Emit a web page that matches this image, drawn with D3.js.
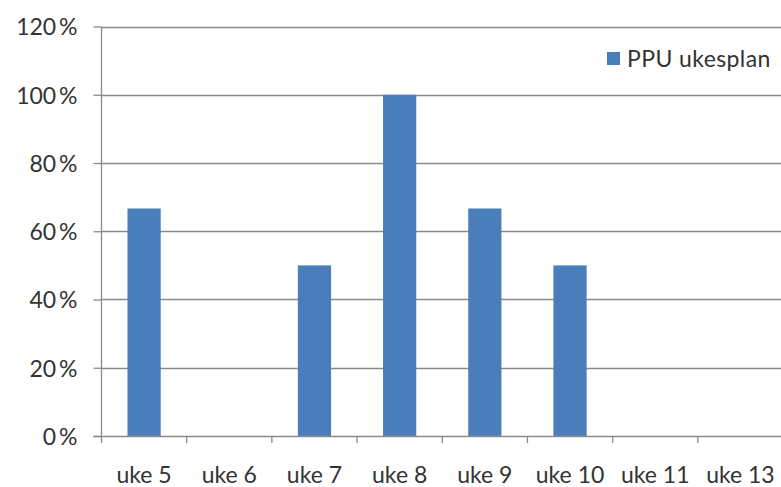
<!DOCTYPE html>
<html>
<head>
<meta charset="utf-8">
<script src="https://cdn.jsdelivr.net/npm/d3@7"></script>
<style>
  html, body { margin: 0; padding: 0; background: #fff; }
  svg { display: block; }
  text { font-family: Lato, "Open Sans", sans-serif; fill: #333; }
</style>
</head>
<body>
<svg id="chart" width="781" height="487"></svg>
<script>
// Weekly PPU share per week
const categories = ["uke 5", "uke 6", "uke 7", "uke 8", "uke 9", "uke 10", "uke 11", "uke 13"];
const values = [0.6667, 0, 0.5, 1.0, 0.6667, 0.5, 0, 0];
const yTicks = [0, 0.2, 0.4, 0.6, 0.8, 1.0, 1.2];
const seriesName = "PPU ukesplan";

const W = 781, H = 487;
const plot = { left: 101.5, right: 783, top: 26.5, bottom: 436 };
const barColor = "#4a7ebb";
const gridColor = "#8a8a8a";
const fontSize = 23;

const svg = d3.select("#chart");

const x = d3.scaleBand()
  .domain(categories)
  .range([plot.left, plot.right])
  .paddingInner(0.61)
  .paddingOuter(0.305);

const y = d3.scaleLinear()
  .domain([0, 1.2])
  .range([plot.bottom, plot.top]);

const fmt = v => Math.round(v * 100) + "\u2009%";

// horizontal gridlines
svg.append("g")
  .selectAll("line")
  .data(yTicks.filter(d => d > 0))
  .join("line")
  .attr("x1", plot.left)
  .attr("x2", W)
  .attr("y1", d => Math.round(y(d)) + 0.5)
  .attr("y2", d => Math.round(y(d)) + 0.5)
  .attr("stroke", gridColor)
  .attr("stroke-width", 1.3);

// bars
svg.append("g")
  .selectAll("rect")
  .data(categories.map((c, i) => ({ c, v: values[i] })))
  .join("rect")
  .attr("x", d => x(d.c))
  .attr("width", x.bandwidth())
  .attr("y", d => y(d.v))
  .attr("height", d => plot.bottom - y(d.v))
  .attr("fill", barColor);

// y axis
const yAxis = d3.axisLeft(y)
  .tickValues(yTicks)
  .tickSize(8)
  .tickPadding(16)
  .tickFormat(fmt);

const yg = svg.append("g")
  .attr("transform", `translate(${plot.left},0)`)
  .call(yAxis);
yg.select(".domain").attr("stroke", gridColor).attr("stroke-width", 1.3)
  .attr("d", `M0,${y(1.2)}V${plot.bottom}`);
yg.selectAll(".tick line").attr("stroke", gridColor).attr("stroke-width", 1.3);
yg.selectAll(".tick text")
  .attr("font-size", fontSize)
  .attr("font-family", "Lato, sans-serif")
  .attr("fill", "#333")
  .attr("dy", "0.36em");

// x axis baseline with boundary ticks
const step = x.step();
const x0 = x.range()[0];
const boundaries = d3.range(categories.length + 1).map(i => x0 + i * step);

const xg = svg.append("g");
xg.append("line")
  .attr("x1", plot.left - 8)
  .attr("x2", W)
  .attr("y1", plot.bottom + 0.5)
  .attr("y2", plot.bottom + 0.5)
  .attr("stroke", gridColor)
  .attr("stroke-width", 1.3);
xg.selectAll("line.tk")
  .data(boundaries)
  .join("line")
  .attr("class", "tk")
  .attr("x1", d => d)
  .attr("x2", d => d)
  .attr("y1", plot.bottom)
  .attr("y2", plot.bottom + 7)
  .attr("stroke", gridColor)
  .attr("stroke-width", 1.3);

xg.selectAll("text")
  .data(categories)
  .join("text")
  .attr("x", d => x(d) + x.bandwidth() / 2)
  .attr("y", 483)
  .attr("text-anchor", "middle")
  .attr("font-size", fontSize)
  .text(d => d);

// legend
const lg = svg.append("g").attr("transform", "translate(607,52)");
lg.append("rect").attr("width", 13).attr("height", 13).attr("fill", barColor);
lg.append("text")
  .attr("x", 20)
  .attr("y", 15)
  .attr("font-size", fontSize)
  .attr("letter-spacing", 0.4)
  .text(seriesName);
</script>
</body>
</html>
